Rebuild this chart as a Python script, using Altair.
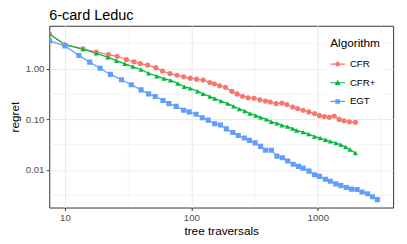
import altair as alt
import pandas as pd

categories = ["CFR", "CFR+", "EGT"]
palette = ["#F8766D", "#00BA38", "#619CFF"]

cfr_traversals = [7.55, 10, 13.9, 17.7, 22.1, 25.9, 30.6, 35.2, 39.5, 45.1, 52.4, 59.0, 67.7, 77.1,
                  86.9, 97.9, 110, 124, 140, 152, 167, 186, 209, 230, 254, 281, 313, 348, 385, 421,
                  469, 520, 569, 633, 692, 765, 847, 942, 1030, 1127, 1233, 1349, 1473, 1611, 1778, 1986]
cfr_regret = [4.87, 2.98, 2.47, 2.14, 1.90, 1.76, 1.52, 1.37, 1.26, 1.18, 1.05, 0.902, 0.80, 0.745,
              0.690, 0.651, 0.622, 0.595, 0.535, 0.505, 0.461, 0.428, 0.357, 0.318, 0.286, 0.266, 0.261, 0.243, 0.229, 0.219,
              0.204, 0.209, 0.195, 0.175, 0.163, 0.151, 0.140, 0.130, 0.118, 0.113, 0.110, 0.116, 0.0995, 0.0931, 0.0894, 0.0871]

cfrp_traversals = [7.55, 10, 13.9, 17.7, 21.8, 25.6, 29.8, 34.5, 40.0, 45.9, 53.3, 60.8, 68.4, 78.1,
                   87.9, 97.9, 112, 124, 140, 153, 172, 194, 216, 239, 265, 291, 323, 353, 393, 429,
                   475, 520, 575, 633, 680, 765, 847, 942, 1044, 1148, 1256, 1390, 1520, 1660, 1795, 1986]
cfrp_regret = [4.87, 2.98, 2.44, 2.02, 1.69, 1.44, 1.25, 1.10, 0.965, 0.814, 0.711, 0.64, 0.59, 0.512,
               0.441, 0.409, 0.358, 0.318, 0.282, 0.258, 0.229, 0.204, 0.180, 0.160, 0.146, 0.130, 0.119, 0.109, 0.0995, 0.0894,
               0.0832, 0.0762, 0.0715, 0.0654, 0.0598, 0.0557, 0.0509, 0.0457, 0.0426, 0.0394, 0.0366, 0.0340, 0.0315, 0.0284, 0.0252, 0.0216]

egt_traversals = [7.55, 10, 12.9, 15.7, 19.0, 22.9, 28.0, 33.5, 40.0, 45.9, 51.8, 59.7, 66.5, 75.8,
                  86.9, 96.1, 109, 122, 136, 153, 170, 189, 213, 235, 262, 288, 319, 353, 385, 429,
                  475, 525, 578, 639, 703, 765, 852, 942, 1030, 1148, 1256, 1390, 1520, 1680, 1849, 2045,
                  2235, 2475, 2705, 2957]
egt_regret = [3.56, 2.82, 1.82, 1.35, 1.02, 0.771, 0.604, 0.482, 0.381, 0.318, 0.282, 0.236, 0.204, 0.180,
              0.151, 0.140, 0.126, 0.107, 0.0965, 0.0818, 0.0771, 0.0645, 0.0547, 0.0478, 0.0426, 0.0383, 0.0341, 0.0292, 0.0245, 0.0245,
              0.0187, 0.0174, 0.0150, 0.0129, 0.0117, 0.0108, 0.00944, 0.0080, 0.00745, 0.00651, 0.00596, 0.00528, 0.00489, 0.00447, 0.00416, 0.00409,
              0.00364, 0.00337, 0.00295, 0.00258]

x_major = [10, 100, 1000]
x_minor = [31.62, 316.2, 3162]
y_major = [0.01, 0.1, 1]
y_minor = [0.003162, 0.03162, 0.3162, 3.162]
x_domain = [7.52, 3940]
y_domain = [0.0018, 7.06]

rows = []
for name, xs_, ys_ in zip(categories,
                          [cfr_traversals, cfrp_traversals, egt_traversals],
                          [cfr_regret, cfrp_regret, egt_regret]):
    for a, b in zip(xs_, ys_):
        rows.append({"Algorithm": name, "traversals": a, "regret": b})
df = pd.DataFrame(rows)

FONT = "Liberation Sans"

xscale = alt.Scale(type="log", domain=x_domain, nice=False)
yscale = alt.Scale(type="log", domain=y_domain, nice=False)
xaxis = alt.Axis(values=x_major, format="d", grid=True, labelPadding=2.5, titlePadding=3)
yaxis = alt.Axis(values=y_major, format=".2f", grid=True, labelPadding=2.5, titlePadding=4)

color_scale = alt.Scale(domain=categories, range=palette)

# legend glyphs: horizontal line segment with the marker shape on top
line_part = "M-1,-0.08H1V0.08H-1Z"
legend_paths = [
    line_part + "M-0.32,0A0.32,0.32 0 1,1 0.32,0A0.32,0.32 0 1,1 -0.32,0Z",
    line_part + "M0,-0.4L0.4,0.29L-0.4,0.29Z",
    line_part + "M-0.31,-0.31H0.31V0.31H-0.31Z",
]

vminor = alt.Chart(pd.DataFrame({"v": x_minor})).mark_rule(
    color="#EBEBEB", strokeWidth=0.55
).encode(x=alt.X("v:Q", scale=xscale, axis=xaxis, title="tree traversals"))

hminor = alt.Chart(pd.DataFrame({"h": y_minor})).mark_rule(
    color="#EBEBEB", strokeWidth=0.55
).encode(y=alt.Y("h:Q", scale=yscale, axis=yaxis, title="regret"))

base = alt.Chart(df).encode(
    x=alt.X("traversals:Q", scale=xscale, axis=xaxis, title="tree traversals"),
    y=alt.Y("regret:Q", scale=yscale, axis=yaxis, title="regret"),
)

lines = base.mark_line(strokeWidth=1.3, clip=True).encode(
    color=alt.Color("Algorithm:N", scale=color_scale, legend=None)
)
points = base.mark_point(filled=True, size=27, opacity=1, clip=True).encode(
    color=alt.Color("Algorithm:N", scale=color_scale, legend=None),
    shape=alt.Shape("Algorithm:N",
                    scale=alt.Scale(domain=categories, range=["circle", "triangle-up", "square"]),
                    legend=None),
)

legend_props = dict(
    orient="none", legendX=283, legendY=9.5, fillColor="white", padding=3,
    title="Algorithm", titleFontSize=12, titleFont=FONT, titleFontWeight="normal",
    titleColor="black", titlePadding=5, labelFontSize=9.8, labelFont=FONT,
    labelColor="black", labelOffset=5, symbolSize=225, clipHeight=19, rowPadding=0,
    symbolStrokeWidth=0, symbolOpacity=1,
)

legend_layer = alt.Chart(df).transform_filter("false").mark_point(
    filled=True, size=225, opacity=1
).encode(
    color=alt.Color("Algorithm:N", scale=color_scale, legend=alt.Legend(**legend_props)),
    shape=alt.Shape("Algorithm:N", scale=alt.Scale(domain=categories, range=legend_paths),
                    legend=alt.Legend(**legend_props)),
)

chart = alt.layer(vminor, hminor, lines, points, legend_layer).resolve_scale(
    color="independent", shape="independent"
).properties(
    width=350,
    height=185,
    title=alt.TitleParams("6-card Leduc", anchor="start", frame="group", fontSize=14.7,
                          fontWeight="normal", font=FONT, offset=3, color="black"),
    autosize=alt.AutoSizeParams(type="none"),
    padding={"left": 42, "top": 16, "right": 6, "bottom": 34},
).configure_view(
    stroke="#333333", strokeWidth=1
).configure_axis(
    domain=False, tickColor="#333333", tickSize=3, tickWidth=1,
    labelColor="#4D4D4D", labelFontSize=9.8, labelFont=FONT,
    titleFontSize=12, titleFont=FONT, titleFontWeight="normal", titleColor="black",
    gridColor="#EBEBEB", gridWidth=1.07,
)

chart.save("out.html", embed_options={"renderer": "svg", "actions": False})
